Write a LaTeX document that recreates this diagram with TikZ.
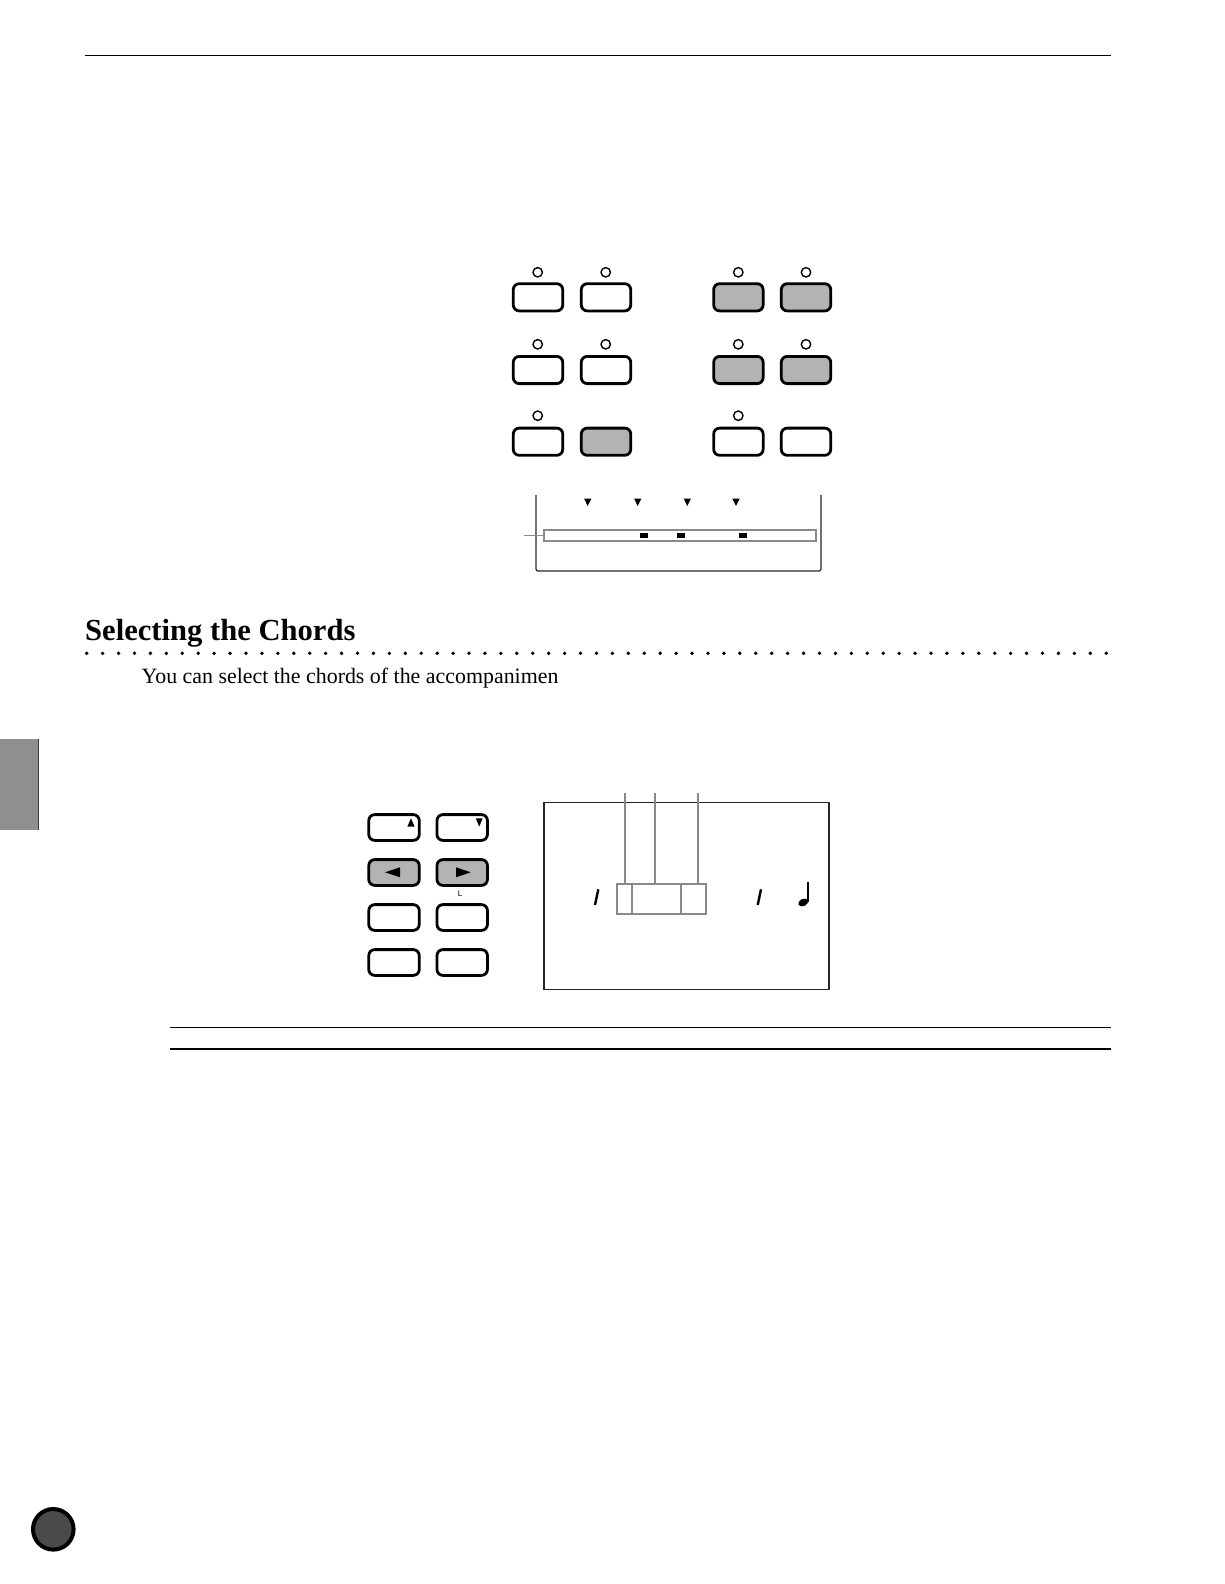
\documentclass[tikz,border=0pt]{standalone}
\usepackage{fontspec}
\setmainfont{Liberation Serif}
\newfontfamily\lsans{Liberation Sans}
\definecolor{btngray}{HTML}{B3B3B3}
\definecolor{lcdgray}{HTML}{8A8A8A}
\definecolor{tabgray}{HTML}{8F8F8F}
\definecolor{dotdark}{HTML}{4A4A4A}
\begin{document}
\begin{tikzpicture}[x=1pt,y=-1pt,
  btn/.style={draw=black,line width=2.8pt,rounded corners=6pt,inner sep=0pt,
    minimum width=49.5pt,minimum height=27.2pt},
  btnsm/.style={btn,minimum width=50.5pt,minimum height=25.8pt},
  on/.style={fill=btngray},
  led/.style={draw=black,line width=1.4pt,circle,inner sep=0pt,minimum size=9.4pt},
  rule/.style={line width=1.3pt,black},
  lcdline/.style={draw=lcdgray,line width=2pt},
  tri/.style={fill=black}]
\useasboundingbox (0,0) rectangle (1224,1584);
\fill[white] (0,0) rectangle (1224,1584);

% rules
\draw[rule] (85,55.3) -- (1110.7,55.3);
\draw[rule] (170,1027.3) -- (1110.7,1027.3);
\draw[rule] (170,1049) -- (1110.7,1049);

% upper buttons
\foreach \nm/\x/\y/\st in {a1/538/297.3/,a2/606/297.3/,a3/738.4/297.3/on,a4/806/297.3/on,
  b1/538/370/,b2/606/370/,b3/738.4/370/on,b4/806/370/on,
  c1/538/441.7/,c2/606/441.7/on,c3/738.4/441.7/,c4/806/441.7/}
  \node[btn,\st] (\nm) at (\x,\y) {};
\foreach \nm/\x/\y in {la1/537.7/272.3,la2/605.7/272.3,la3/738.3/272.3,la4/806/272.3,
  lb1/537.7/344.3,lb2/605.7/344.3,lb3/738.3/344.3,lb4/806/344.3,
  lc1/537.7/415.7,lc3/738.3/415.7}
  \node[led] (\nm) at (\x,\y) {};

% upper LCD
\draw[line width=1.2pt,black!85,rounded corners=2pt] (536,495) -- (536,571) -- (821,571) -- (821,495);
\foreach \x in {587.7,637.7,687.3,736}
  \fill[tri] (\x-3.6,498.6) -- (\x+3.6,498.6) -- (\x,506) -- cycle;
\node[lcdline,inner sep=0pt,minimum width=272.3pt,minimum height=11pt,anchor=west] (bar) at (542.7,535.5) {};
\coordinate (tick) at (524,535.5);
\draw[lcdline,line width=1.4pt] (tick) -- (bar.west);
\foreach \x in {644,681,743}
  \fill[black] (\x-4,533) rectangle (\x+4,538);

% heading
\node[anchor=base west,inner sep=0pt,font=\fontsize{30.6}{32}\selectfont\bfseries] (head) at (85,640.7) {Selecting the Chords};
\foreach \i in {0,...,64}
  \fill[black] (86.7+15.93*\i,653.3) circle (1.9);
\node[anchor=base west,inner sep=0pt,font=\fontsize{21.9}{24}\selectfont] (body) at (141.5,683.3) {You can select the chords of the accompanimen};

% lower buttons
\foreach \nm/\x/\y/\st in {d1/394/827.5/,d2/462.2/827.5/,e1/394/872.5/on,e2/462.2/872.5/on,
  f1/394/917.5/,f2/462.2/917.5/,g1/394/962.5/,g2/462.2/962.5/}
  \node[btnsm,\st] (\nm) at (\x,\y) {};
\fill[tri] (407.3,826.7) -- (414.6,826.7) -- (411,818.3) -- cycle;
\fill[tri] (475.8,818.3) -- (482.6,818.3) -- (479.2,826.7) -- cycle;
\fill[tri] (385,872.3) -- (400,867.3) -- (400,877.3) -- cycle;
\fill[tri] (470.7,872.3) -- (456,867.3) -- (456,877.3) -- cycle;
\node[font=\lsans\fontsize{8}{8}\selectfont,inner sep=0pt] (lbl) at (460,893.6) {L};

% lower LCD
\draw[line width=1.3pt,black!85] (544,802.3) rectangle (829,989.3);
\node[lcdline,inner sep=0pt,minimum width=89pt,minimum height=30pt,anchor=north west] (box) at (616,882.7) {};
\draw[lcdline] (631.7,882.7) -- (631.7,912.7);
\draw[lcdline] (681,882.7) -- (681,912.7);
\foreach \x in {625,655,697.7}
  \draw[lcdline] (\x,793.3) -- (\x,882.7);
\draw[line width=2.4pt,black] (598.3,889.3) -- (595,905);
\draw[line width=2.4pt,black] (761,889.3) -- (757.7,905);
\fill[black,rotate around={25:(803.2,902.5)}] (803.2,902.5) ellipse (5.2 and 3.6);
\draw[line width=1.8pt,black] (807.6,881.7) -- (807.6,902);

% side tab and page dot
\fill[tabgray] (0,739) rectangle (38.4,830);
\draw[black!60!tabgray,line width=0.8pt] (38,739) -- (38,830);
\node[circle,draw=black,line width=4pt,fill=dotdark,inner sep=0pt,minimum size=40.6pt] (pg) at (53.3,1529.3) {};
\end{tikzpicture}
\end{document}
